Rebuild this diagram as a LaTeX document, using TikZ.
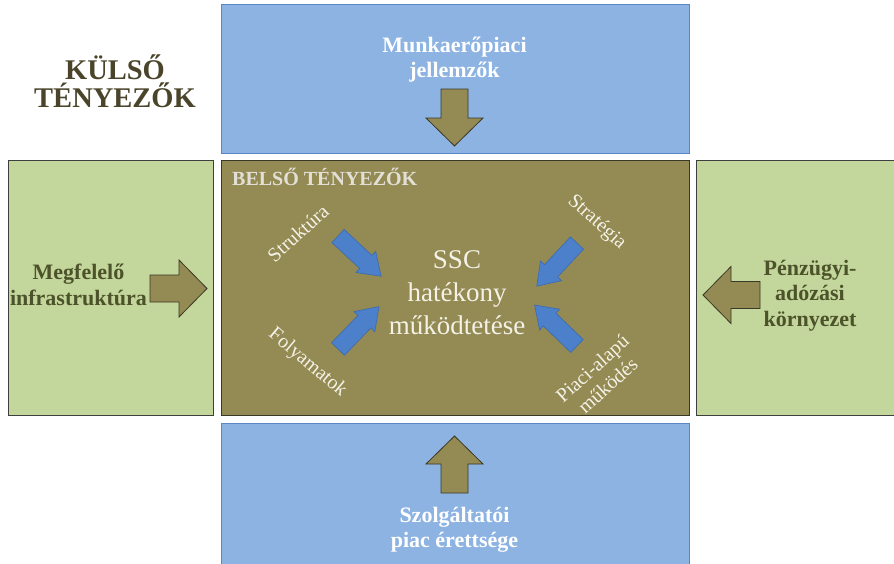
\documentclass[tikz,border=0pt]{standalone}
\usepackage{fontspec}
\setmainfont{Liberation Serif}
\definecolor{boxblue}{HTML}{8DB3E2}
\definecolor{boxblueline}{HTML}{5B86C5}
\definecolor{boxgreen}{HTML}{C3D69B}
\definecolor{boxgreenline}{HTML}{3F3F3F}
\definecolor{oliveF}{HTML}{948A54}
\definecolor{oliveline}{HTML}{3A3826}
\definecolor{arrowblue}{HTML}{4C80CA}
\definecolor{arrowblueline}{HTML}{3C6AAE}
\definecolor{titlecol}{HTML}{4A452A}
\definecolor{greentext}{HTML}{4C5229}
\definecolor{innertext}{HTML}{F4F2E6}
\definecolor{headcol}{HTML}{E2E0D6}
\begin{document}
\begin{tikzpicture}[x=1pt,y=-1pt,
  box/.style={anchor=north west,inner sep=0pt,outer sep=0pt,line width=0.8pt},
  bluebox/.style={box,fill=boxblue,draw=boxblueline},
  greenbox/.style={box,fill=boxgreen,draw=boxgreenline},
  innerbox/.style={box,fill=oliveF,draw=oliveline,line width=1pt},
  oarrow/.style={fill=oliveF,draw=oliveline,line width=0.8pt,line join=miter},
  barrow/.style={fill=arrowblue,draw=arrowblueline,line width=0.6pt,line join=miter},
  whitelabel/.style={text=white,font=\bfseries\fontsize{22}{24.5}\selectfont,align=center,inner sep=0pt,anchor=base},
  greenlabel/.style={text=greentext,font=\bfseries\fontsize{22}{25.5}\selectfont,align=center,inner sep=0pt,anchor=base},
  diaglabel/.style={text=innertext,font=\fontsize{20}{23}\selectfont,align=center,inner sep=0pt},
  olivearrow/.pic={\draw[oarrow] (0,-13.5) -- (29,-13.5) -- (29,-28.5) -- (57,0) -- (29,28.5) -- (29,13.5) -- (0,13.5) -- cycle;},
  bluearrow/.pic={\draw[barrow] (0,-9) -- (38,-9) -- (38,-14.5) -- (59,0) -- (38,14.5) -- (38,9) -- (0,9) -- cycle;}
]
\useasboundingbox (0,0) rectangle (894,563);
\clip (0,0) rectangle (894,563);
% boxes
\node[bluebox,minimum width=468pt,minimum height=149pt] (topbox) at (221,4) {};
\node[bluebox,minimum width=468pt,minimum height=145pt] (botbox) at (221,423) {};
\node[greenbox,minimum width=205pt,minimum height=255pt] (leftbox) at (8,160) {};
\node[greenbox,minimum width=205pt,minimum height=255pt] (rightbox) at (696,160) {};
\node[innerbox,minimum width=468pt,minimum height=255pt] (innerbox) at (221,160) {};
% title (base = last line's baseline)
\node[text=titlecol,font=\bfseries\fontsize{28.5}{28}\selectfont,align=center,inner sep=0pt,anchor=base] (title) at (115,107) {KÜLSŐ\\TÉNYEZŐK};
% outer labels
\node[whitelabel] (toplabel) at (454.5,77) {Munkaerőpiaci\\jellemzők};
\node[whitelabel] (botlabel) at (454.5,547) {Szolgáltatói\\piac érettsége};
\node[greenlabel] (leftlabel) at (78.5,305) {Megfelelő\\infrastruktúra};
\node[greenlabel] (rightlabel) at (810,326) {Pénzügyi-\\adózási\\környezet};
% olive arrows
\pic[rotate=-90] at (454.5,89) {olivearrow};
\pic[rotate=90] at (454.5,493) {olivearrow};
\pic at (150,288.5) {olivearrow};
\pic[rotate=180] at (760,295) {olivearrow};
% inner content
\node[text=headcol,font=\bfseries\fontsize{20}{22}\selectfont,inner sep=0pt,anchor=base west] (innerhead) at (232,185) {BELSŐ TÉNYEZŐK};
\node[text=innertext,font=\fontsize{27}{33}\selectfont,align=center,inner sep=0pt,anchor=base] (ssc) at (457,334) {SSC\\hatékony\\működtetése};
\pic[rotate=-43] at (338,236) {bluearrow};
\pic[rotate=-133] at (577,243) {bluearrow};
\pic[rotate=46] at (338,349) {bluearrow};
\pic[rotate=136] at (577,346) {bluearrow};
\node[diaglabel,rotate=42] (struktura) at (298,233) {Struktúra};
\node[diaglabel,rotate=-42] (strategia) at (596.7,222.4) {Stratégia};
\node[diaglabel,rotate=-40] (folyamatok) at (307.5,363) {Folyamatok};
\node[diaglabel,rotate=42] (piaci) at (600,376.7) {Piaci-alapú\\működés};
\end{tikzpicture}
\end{document}
